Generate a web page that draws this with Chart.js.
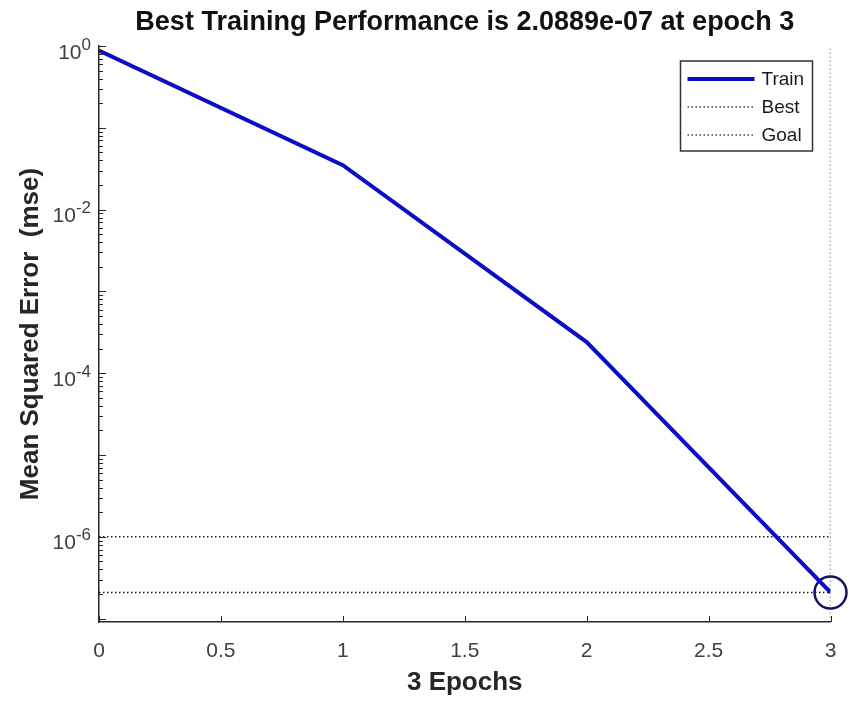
<!DOCTYPE html>
<html>
<head>
<meta charset="utf-8">
<script src="https://cdn.jsdelivr.net/npm/chart.js@4.4.1/dist/chart.umd.min.js"></script>
<style>
html, body { margin: 0; padding: 0; background: #fff; }
#wrap { width: 849px; height: 704px; position: relative; }
</style>
</head>
<body>
<div id="wrap"><canvas id="perfChart"></canvas></div>
<script>
// values
const epochs = [0, 1, 2, 3];
const trainPerf = [0.88, 0.035, 2.4e-4, 2.0889e-7];
const bestEpoch = 3;
const bestPerf = 2.0889e-7;
const goalPerf = 1e-6;
const xTicks = [0, 0.5, 1, 1.5, 2, 2.5, 3];
const yDecadeLabels = [0, -2, -4, -6];
const yMin = 9.1e-8;
const yMax = 1;
const legendLabels = ['Train', 'Best', 'Goal'];

const FONT = '"Liberation Sans", Arial, Helvetica, sans-serif';
const AXIS_COLOR = '#262626';
const TRAIN_COLOR = '#0c0cc6';
const DOT = [1.5, 2.5];

const matlabAxes = {
    id: 'matlabAxes',
    afterDraw(chart) {
        const ctx = chart.ctx;
        const xs = chart.scales.x;
        const ys = chart.scales.y;
        const area = chart.chartArea;
        ctx.save();

        // tick marks pointing inward
        ctx.strokeStyle = AXIS_COLOR;
        ctx.lineWidth = 1;
        xTicks.forEach(t => {
            const px = Math.round(xs.getPixelForValue(t)) + 0.5;
            ctx.beginPath();
            ctx.moveTo(px, area.bottom);
            ctx.lineTo(px, area.bottom - 6);
            ctx.stroke();
        });
        for (let k = -8; k <= 0; k++) {
            for (let m = 1; m <= 9; m++) {
                const v = m * Math.pow(10, k);
                if (v < yMin || v > yMax * 1.0001) continue;
                const py = Math.round(ys.getPixelForValue(v)) + 0.5;
                ctx.beginPath();
                ctx.moveTo(area.left, py);
                ctx.lineTo(area.left + (m === 1 ? 7 : 4), py);
                ctx.stroke();
            }
        }

        // x tick labels
        ctx.fillStyle = '#404040';
        ctx.font = '21px ' + FONT;
        ctx.textAlign = 'center';
        ctx.textBaseline = 'alphabetic';
        xTicks.forEach(t => {
            ctx.fillText(String(t), xs.getPixelForValue(t), area.bottom + 35);
        });

        // y tick labels, 10 with superscript exponent
        const right = area.left - 8;
        yDecadeLabels.forEach(e => {
            const py = ys.getPixelForValue(Math.pow(10, e));
            const expText = String(e);
            ctx.font = '17px ' + FONT;
            const expW = ctx.measureText(expText).width;
            ctx.textAlign = 'left';
            ctx.fillText(expText, right - expW, py + 3.5);
            ctx.font = '21px ' + FONT;
            ctx.textAlign = 'right';
            ctx.fillText('10', right - expW, py + 12.5);
        });

        // legend box
        const bx = area.right - 150, by = area.top + 15, bw = 132, bh = 90;
        ctx.fillStyle = '#fff';
        ctx.fillRect(bx, by, bw, bh);
        ctx.strokeStyle = '#333';
        ctx.lineWidth = 1.5;
        ctx.strokeRect(bx, by, bw, bh);
        const rows = [by + 18, by + 46, by + 74];
        legendLabels.forEach((lab, i) => {
            ctx.beginPath();
            if (i === 0) {
                ctx.strokeStyle = TRAIN_COLOR;
                ctx.lineWidth = 4;
                ctx.setLineDash([]);
            } else {
                ctx.strokeStyle = '#444';
                ctx.lineWidth = 1.3;
                ctx.setLineDash(DOT);
            }
            ctx.moveTo(bx + 7, rows[i]);
            ctx.lineTo(bx + 74, rows[i]);
            ctx.stroke();
            ctx.setLineDash([]);
            ctx.fillStyle = '#1a1a1a';
            ctx.font = '19px ' + FONT;
            ctx.textAlign = 'left';
            ctx.textBaseline = 'middle';
            ctx.fillText(lab, bx + 81, rows[i] + 1);
        });
        ctx.restore();
    }
};

new Chart(document.getElementById('perfChart'), {
    type: 'line',
    data: {
        datasets: [
            {
                label: 'Train',
                data: epochs.map((e, i) => ({ x: e, y: trainPerf[i] })),
                borderColor: TRAIN_COLOR,
                borderWidth: 4,
                pointRadius: 0,
                tension: 0,
                order: 0
            },
            {
                label: 'Best',
                data: [{ x: epochs[0], y: bestPerf }, { x: epochs[epochs.length - 1], y: bestPerf }],
                borderColor: '#1a1a1a',
                borderWidth: 1.5,
                borderDash: DOT,
                pointRadius: 0,
                order: 2
            },
            {
                label: 'Best epoch',
                data: [{ x: bestEpoch, y: yMin }, { x: bestEpoch, y: yMax }],
                borderColor: '#666',
                borderWidth: 1.5,
                borderDash: DOT,
                pointRadius: 0,
                order: 2
            },
            {
                label: 'Goal',
                data: [{ x: epochs[0], y: goalPerf }, { x: epochs[epochs.length - 1], y: goalPerf }],
                borderColor: '#1a1a1a',
                borderWidth: 1.5,
                borderDash: DOT,
                pointRadius: 0,
                order: 2
            },
            {
                label: 'Best point',
                data: [{ x: bestEpoch, y: bestPerf }],
                showLine: false,
                pointRadius: 16,
                pointBorderWidth: 2.5,
                pointBorderColor: '#15155e',
                pointBackgroundColor: 'rgba(0,0,0,0)',
                clip: false,
                order: 1
            }
        ]
    },
    options: {
        responsive: true,
        maintainAspectRatio: false,
        animation: false,
        layout: { padding: { left: 0, right: 18, top: 0, bottom: 0 } },
        plugins: {
            legend: { display: false },
            tooltip: { enabled: false },
            title: {
                display: true,
                fullSize: false,
                text: 'Best Training Performance is 2.0889e-07 at epoch 3',
                color: '#111',
                font: { family: FONT, size: 27, weight: 'bold', lineHeight: 1.2 },
                padding: { top: 6, bottom: 7.6 }
            }
        },
        scales: {
            x: {
                type: 'linear',
                min: 0,
                max: 3,
                grid: { display: false },
                border: { display: true, color: AXIS_COLOR, width: 1.5 },
                ticks: { display: false },
                title: {
                    display: true,
                    text: '3 Epochs',
                    color: '#262626',
                    font: { family: FONT, size: 26, weight: 'bold', lineHeight: 1.2 },
                    padding: { top: 6, bottom: 6 }
                },
                afterFit(scale) { scale.height = 82; }
            },
            y: {
                type: 'logarithmic',
                min: yMin,
                max: yMax,
                grid: { display: false },
                border: { display: true, color: AXIS_COLOR, width: 1.5 },
                ticks: { display: false },
                title: {
                    display: true,
                    text: 'Mean Squared Error  (mse)',
                    color: '#262626',
                    font: { family: FONT, size: 26, weight: 'bold', lineHeight: 1.2 },
                    padding: { top: 15, bottom: 15 }
                },
                afterFit(scale) { scale.width = 99; }
            }
        }
    },
    plugins: [matlabAxes]
});
</script>
</body>
</html>
